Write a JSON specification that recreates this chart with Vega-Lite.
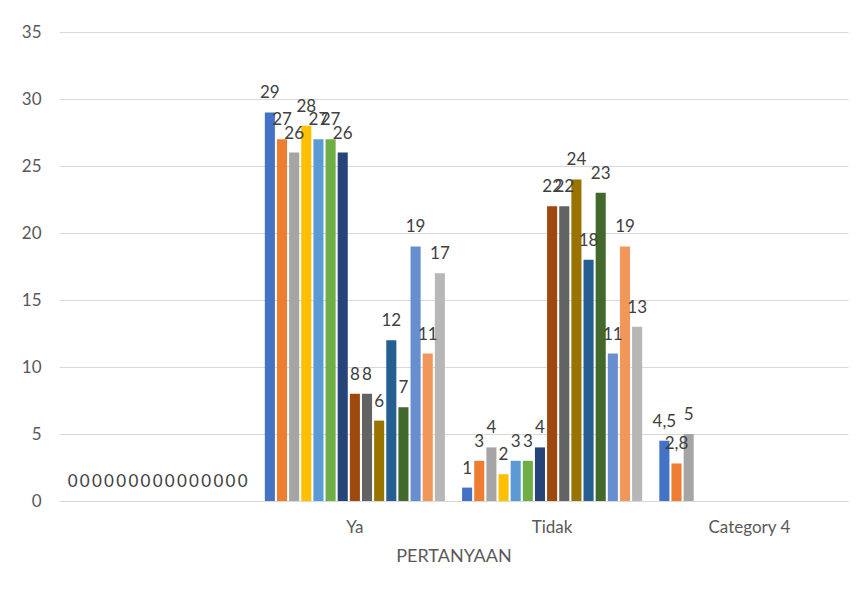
{
  "$schema": "https://vega.github.io/schema/vega-lite/v6.json",
  "width": 789,
  "height": 469,
  "autosize": {"type": "none"},
  "padding": {"left": 59, "top": 32, "right": 11, "bottom": 91},
  "background": "white",
  "config": {
    "view": {"stroke": null},
    "font": "Lato",
    "axis": {"labelFont": "Lato", "titleFont": "Lato"}
  },
  "data": {
    "values": [
      {"cat": " ", "s": "S01", "v": 0}, {"cat": " ", "s": "S02", "v": 0}, {"cat": " ", "s": "S03", "v": 0},
      {"cat": " ", "s": "S04", "v": 0}, {"cat": " ", "s": "S05", "v": 0}, {"cat": " ", "s": "S06", "v": 0},
      {"cat": " ", "s": "S07", "v": 0}, {"cat": " ", "s": "S08", "v": 0}, {"cat": " ", "s": "S09", "v": 0},
      {"cat": " ", "s": "S10", "v": 0}, {"cat": " ", "s": "S11", "v": 0}, {"cat": " ", "s": "S12", "v": 0},
      {"cat": " ", "s": "S13", "v": 0}, {"cat": " ", "s": "S14", "v": 0}, {"cat": " ", "s": "S15", "v": 0},
      {"cat": "Ya", "s": "S01", "v": 29}, {"cat": "Ya", "s": "S02", "v": 27}, {"cat": "Ya", "s": "S03", "v": 26},
      {"cat": "Ya", "s": "S04", "v": 28}, {"cat": "Ya", "s": "S05", "v": 27}, {"cat": "Ya", "s": "S06", "v": 27},
      {"cat": "Ya", "s": "S07", "v": 26}, {"cat": "Ya", "s": "S08", "v": 8}, {"cat": "Ya", "s": "S09", "v": 8},
      {"cat": "Ya", "s": "S10", "v": 6}, {"cat": "Ya", "s": "S11", "v": 12}, {"cat": "Ya", "s": "S12", "v": 7},
      {"cat": "Ya", "s": "S13", "v": 19}, {"cat": "Ya", "s": "S14", "v": 11}, {"cat": "Ya", "s": "S15", "v": 17},
      {"cat": "Tidak", "s": "S01", "v": 1}, {"cat": "Tidak", "s": "S02", "v": 3}, {"cat": "Tidak", "s": "S03", "v": 4},
      {"cat": "Tidak", "s": "S04", "v": 2}, {"cat": "Tidak", "s": "S05", "v": 3}, {"cat": "Tidak", "s": "S06", "v": 3},
      {"cat": "Tidak", "s": "S07", "v": 4}, {"cat": "Tidak", "s": "S08", "v": 22}, {"cat": "Tidak", "s": "S09", "v": 22},
      {"cat": "Tidak", "s": "S10", "v": 24}, {"cat": "Tidak", "s": "S11", "v": 18}, {"cat": "Tidak", "s": "S12", "v": 23},
      {"cat": "Tidak", "s": "S13", "v": 11}, {"cat": "Tidak", "s": "S14", "v": 19}, {"cat": "Tidak", "s": "S15", "v": 13},
      {"cat": "Category 4", "s": "S01", "v": 4.5}, {"cat": "Category 4", "s": "S02", "v": 2.8}, {"cat": "Category 4", "s": "S03", "v": 5}
    ]
  },
  "transform": [{"calculate": "replace(toString(datum.v), '.', ',')", "as": "lbl"}],
  "encoding": {
    "x": {
      "field": "cat",
      "type": "nominal",
      "sort": [" ", "Ya", "Tidak", "Category 4"],
      "scale": {"domain": [" ", "Ya", "Tidak", "Category 4"], "paddingInner": 0.087, "paddingOuter": 0.0435},
      "axis": {
        "title": "PERTANYAAN",
        "labelAngle": 0,
        "domainColor": "#D9D9D9",
        "domainWidth": 1,
        "ticks": false,
        "labelPadding": 18,
        "labelFontSize": 17,
        "labelColor": "#595959",
        "titleFontSize": 18,
        "titleColor": "#595959",
        "titleFontWeight": "normal",
        "titlePadding": 12
      }
    },
    "xOffset": {
      "field": "s",
      "type": "nominal",
      "sort": ["S01","S02","S03","S04","S05","S06","S07","S08","S09","S10","S11","S12","S13","S14","S15"],
      "scale": {"paddingInner": 0.17, "paddingOuter": 0}
    },
    "y": {
      "field": "v",
      "type": "quantitative",
      "scale": {"domain": [0, 35], "nice": false},
      "axis": {
        "title": null,
        "values": [0, 5, 10, 15, 20, 25, 30, 35],
        "domain": false,
        "ticks": false,
        "gridColor": "#D9D9D9",
        "gridWidth": 1,
        "labelPadding": 18,
        "labelFontSize": 17,
        "labelColor": "#595959"
      }
    }
  },
  "layer": [
    {
      "mark": {"type": "bar"},
      "encoding": {
        "color": {
          "field": "s",
          "type": "nominal",
          "scale": {
            "domain": ["S01","S02","S03","S04","S05","S06","S07","S08","S09","S10","S11","S12","S13","S14","S15"],
            "range": ["#4472C4","#ED7D31","#A5A5A5","#FFC000","#5B9BD5","#70AD47","#264478","#9E480E","#636363","#997300","#255E91","#43682B","#698ED0","#F1975A","#B7B7B7"]
          },
          "legend": null
        }
      }
    },
    {
      "mark": {"type": "text", "baseline": "alphabetic", "dy": -14, "fontSize": 17, "color": "#404040"},
      "encoding": {"text": {"field": "lbl", "type": "nominal"}}
    }
  ]
}
